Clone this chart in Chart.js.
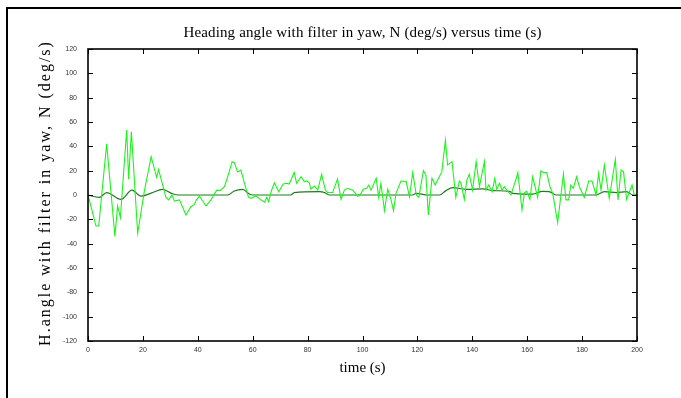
<!DOCTYPE html>
<html>
<head>
<meta charset="utf-8">
<script src="https://cdn.jsdelivr.net/npm/chart.js@4"></script>
<style>
  html, body { margin: 0; padding: 0; background: #fff; }
  #wrap { position: relative; width: 681px; height: 398px; }
</style>
</head>
<body>
<div id="wrap"><canvas id="chart" width="681" height="398"></canvas></div>
<script>
// raw yaw rate (bright green)
const rawTime = [0, 2.9, 3.9, 6.8, 9.8, 10.8, 11.8, 14.1, 14.8, 15.8, 18.1, 20.5, 23, 25, 25.7, 28.4, 29.4, 30.6, 31.5, 33.3,
  35.7, 37.5, 38.7, 39.5, 40.6, 43, 44.8, 46.9, 48.1, 49.7, 50.9, 52.5, 53.3, 54.5, 55.7, 57, 58.5, 59.4, 61.2, 63,
  64.3, 65.1, 65.8, 66.7, 67.9, 69.5, 71.1, 72.4, 73.3, 75.1, 76, 77.6, 78.8, 79.6, 80.6, 81.2, 82.5, 83.7, 85.1, 86.5,
  87.3, 89.1, 90.9, 92.2, 93.4, 94.6, 96.4, 98.3, 99.1, 100.3, 101.5, 102.3, 103.1, 105, 105.9, 106.7, 108, 109.2, 110.4, 111.3,
  112.2, 114, 115.9, 117.1, 118.3, 119.6, 120.5, 122.2, 123.1, 124, 125.3, 126.5, 127.7, 128.9, 130.2, 131, 132.6, 134, 135.3, 135.9,
  137.1, 138, 138.9, 140.1, 141.4, 142.6, 144.4, 145, 146, 147.2, 148.2, 148.9, 149.9, 150.8, 151.7, 152.6, 154.1, 156, 156.6, 158.1,
  159, 159.8, 161, 162, 163.8, 165, 165.9, 167.1, 168.3, 169.3, 171.1, 173.2, 174.1, 175.1, 175.9, 176.8, 178, 179, 180.8, 182.4,
  183.6, 185.1, 186, 186.9, 188.1, 189.9, 192.1, 193.1, 194.2, 195.1, 196.2, 198.2, 199, 200];
const rawValues = [0, -25.5, -25.5, 42, -34, -9, -18.6, 53.4, 13, 52, -31.5, 2.7, 31.5, 14.5, 21, -2, -4, 0, -5, -4,
  -16.4, -9.6, -8, -4, -1, -9, -4, 4, 3.6, 6.8, 15, 27.4, 26.6, 19, 20.5, 9.6, -2, -2.7, -0.8, -4,
  -6, -2, -5.5, 2.7, 10, 2.7, 9, 9.6, 9, 18.4, 9.6, 15, 11, 11.6, 10, 4.7, 7.4, 4, 17, 4,
  2, 2, 13, -3.6, 4, 5.5, 4, -1, 0, 4.7, 5.5, 8.2, 4, 13.7, -2, 9.6, -12.9, 4.7, -4, -12.9,
  1.4, 11.5, 11, -1.4, 18.4, 0, -2, 20, 16.4, -16.4, 13.7, 8.2, 13.7, 19, 45, 24.7, 27.4, -2, 11.5, 9.6,
  -3.6, 12.3, 17, 4, 27.4, 6.8, 27.4, 4, 8.2, 2.7, 13.7, 4.7, 9.6, 4, 6.8, 4, 0, 13.7, 18.4, -12.3,
  2, 3, -3.6, 15, -2, 20, 18.4, 18.4, 6.8, 1.4, -22.7, 17.3, -4, -4, 8.2, 5.5, 15, 6.8, -2, 11.5,
  11.5, 0, 17.8, 4, 24.7, -2.7, 29.3, -4, 20.5, 19, -3.6, 8.2, 0, 0];

// filtered yaw rate (dark green)
const filtTime = [0, 4.1, 6.8, 12, 16, 19.3, 23, 27.2, 30.8, 33, 50.9, 53.3, 56.3, 58.8, 60, 73.9, 75.1, 84.3, 86.2, 88,
  118.3, 119.5, 123.7, 128, 130.4, 132.9, 137.7, 143.8, 147.4, 153.5, 154.7, 160.3, 162, 165.6, 168, 170.5, 185.1, 188.1, 192.6, 196.2,
  198.6, 200];
const filtValues = [0, -2, 2, -3.6, 4, -1, 1.5, 4.7, 1, 0, 0, 3.3, 4.7, 0.8, 0, 0, 2, 2.7, 2, 0,
  0, 1.4, 0, 0, 3.6, 6, 4.7, 5, 3.6, 3, 1.4, 0.8, 0.8, 3, 2.7, 0, 0, 2.7, 2, 2.7,
  0, 0];

const xTicks = [0, 20, 40, 60, 80, 100, 120, 140, 160, 180, 200];
const yTicks = [-120, -100, -80, -60, -40, -20, 0, 20, 40, 60, 80, 100, 120];

const titleText = "Heading angle with filter in yaw, N (deg/s) versus time (s)";
const xLabel = "time (s)";
const yLabel = "H.angle with filter in yaw, N (deg/s)";

function pairs(xs, ys) {
  return xs.map((x, i) => ({ x: x, y: ys[i] }));
}

// MATLAB style box, inward ticks, titles and the outer frame
const decorations = {
  id: "decorations",
  afterDraw(chart) {
    const ctx = chart.ctx;
    const a = chart.chartArea;
    const sx = chart.scales.x;
    const sy = chart.scales.y;
    ctx.save();
    ctx.strokeStyle = "#000";
    ctx.lineWidth = 1;
    ctx.beginPath();
    xTicks.forEach(v => {
      const px = Math.round(sx.getPixelForValue(v)) + 0.5;
      ctx.moveTo(px, a.bottom); ctx.lineTo(px, a.bottom - 5);
      ctx.moveTo(px, a.top); ctx.lineTo(px, a.top + 5);
    });
    yTicks.forEach(v => {
      const py = Math.round(sy.getPixelForValue(v)) + 0.5;
      ctx.moveTo(a.left, py); ctx.lineTo(a.left + 5, py);
      ctx.moveTo(a.right, py); ctx.lineTo(a.right - 5, py);
    });
    ctx.stroke();
    ctx.lineWidth = 1.6;
    ctx.strokeRect(a.left, a.top, a.right - a.left, a.bottom - a.top);

    // outer frame
    ctx.lineWidth = 2;
    ctx.beginPath();
    ctx.moveTo(7, 398); ctx.lineTo(7, 8); ctx.lineTo(681, 8);
    ctx.stroke();

    ctx.fillStyle = "#000";
    ctx.textAlign = "center";
    ctx.textBaseline = "middle";
    ctx.font = '15px "Liberation Serif"';
    ctx.letterSpacing = "0.15px";
    ctx.fillText(titleText, (a.left + a.right) / 2, 33);
    ctx.letterSpacing = "0px";
    ctx.fillText(xLabel, (a.left + a.right) / 2, 368);

    ctx.translate(46, 193);
    ctx.rotate(-Math.PI / 2);
    ctx.font = '16px "Liberation Serif"';
    ctx.letterSpacing = "2px";
    ctx.fillText(yLabel, 0, 0);
    ctx.restore();
  }
};

new Chart(document.getElementById("chart").getContext("2d"), {
  type: "scatter",
  data: {
    datasets: [
      {
        label: "raw",
        data: pairs(rawTime, rawValues),
        showLine: true,
        borderColor: "#1cf51c",
        borderWidth: 1.1,
        pointRadius: 0,
        tension: 0
      },
      {
        label: "filtered",
        data: pairs(filtTime, filtValues),
        showLine: true,
        borderColor: "#1d7a1d",
        borderWidth: 1.2,
        pointRadius: 0,
        cubicInterpolationMode: "monotone"
      }
    ]
  },
  options: {
    responsive: false,
    animation: false,
    layout: { padding: { left: 0, top: 49, right: 44, bottom: 37 } },
    plugins: {
      legend: { display: false },
      tooltip: { enabled: false }
    },
    scales: {
      x: {
        type: "linear",
        min: 0,
        max: 200,
        afterBuildTicks: s => { s.ticks = xTicks.map(v => ({ value: v })); },
        afterFit: s => { s.height = 20; },
        grid: { display: false },
        border: { display: false },
        ticks: { padding: -3, color: "#333", font: { family: "Liberation Sans", size: 7 } }
      },
      y: {
        min: -120,
        max: 120,
        afterBuildTicks: s => { s.ticks = yTicks.map(v => ({ value: v })); },
        afterFit: s => { s.width = 88; },
        grid: { display: false },
        border: { display: false },
        ticks: { padding: 3, color: "#333", font: { family: "Liberation Sans", size: 7 } }
      }
    }
  },
  plugins: [decorations]
});
</script>
</body>
</html>
